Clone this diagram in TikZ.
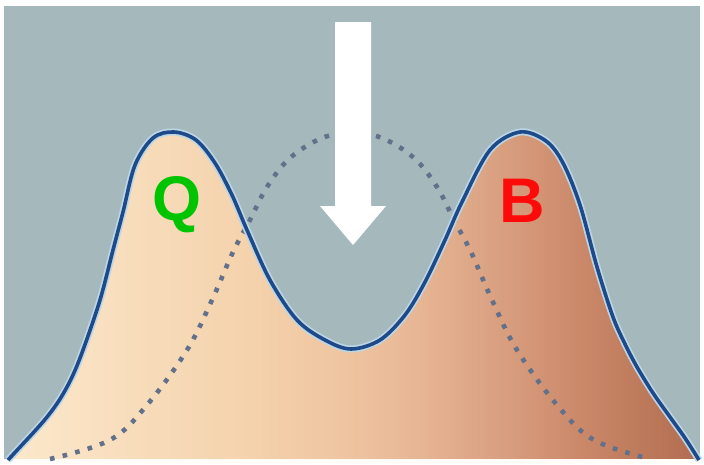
\documentclass[tikz,border=0pt]{standalone}
\usepackage{fontspec}
\setmainfont{Liberation Sans}
\definecolor{bg}{HTML}{A5B9BD}
\definecolor{haloblue}{HTML}{BCD6E6}
\definecolor{curveblue}{HTML}{1E4A8A}
\definecolor{dotgray}{HTML}{62708A}
\definecolor{qgreen}{HTML}{00C400}
\definecolor{bred}{HTML}{FF0A0A}
\pgfdeclarehorizontalshading{humpfill}{100bp}{%
  rgb(0bp)=(0.988,0.910,0.800);
  rgb(25bp)=(0.988,0.910,0.800);
  rgb(31.6bp)=(0.976,0.878,0.753);
  rgb(42.5bp)=(0.957,0.824,0.675);
  rgb(49.7bp)=(0.933,0.769,0.624);
  rgb(54bp)=(0.910,0.722,0.588);
  rgb(60bp)=(0.855,0.635,0.510);
  rgb(66bp)=(0.800,0.540,0.420);
  rgb(72bp)=(0.730,0.465,0.345);
  rgb(75bp)=(0.700,0.420,0.310);
  rgb(100bp)=(0.700,0.420,0.310)}
\begin{document}
\begin{tikzpicture}[x=1pt,y=-1pt,
  halo/.style={line width=7pt, draw=haloblue, line join=round},
  curveline/.style={line width=3.6pt, draw=curveblue, line join=round},
  dotline/.style={line width=4.6pt, draw=dotgray, dash pattern=on 4.6pt off 8.4pt},
  letter/.style={font=\bfseries\fontsize{63}{63}\selectfont, anchor=base, inner sep=0pt}]
\useasboundingbox (0,0) rectangle (704,464);
\fill[white] (0,0) rectangle (704,464);
\fill[bg] (4,6) rectangle (700,459);
% filled bimodal area
\def\bimodal{(8,460) (20,447) (33,433) (47,417) (60,399) (72,377) (83,350) (100,300) (113,250) (123,212) (135,165) (153,138) (174,132) (196,140) (215,163) (232,195) (247,230) (270,280) (297,320) (325,340) (351,349) (380,340) (405,315) (425,282) (445,240) (462,202) (490,150) (520,132) (546,141) (563,163) (580,205) (597,267) (613,317) (625,344) (637,367) (653,393) (670,417) (685,438) (699,460)}
\shade[shading=humpfill]
  plot[smooth, tension=0.55] coordinates {\bimodal} -- cycle;
\fill[white!90!orange!20] (4,459) rectangle (700,464);
% dotted single-peak curve
\draw[dotline] plot[smooth, tension=0.6] coordinates {(50,459) (110,440) (147,405) (187,350) (212,300) (233,252) (250,220) (267,187) (290,158) (322,138) (352,133) (382,138) (414,158) (437,187) (454,220) (471,252) (492,300) (517,350) (557,405) (594,440) (650,459)};
% solid outline
\draw[halo] plot[smooth, tension=0.55] coordinates {\bimodal};
\draw[curveline] plot[smooth, tension=0.55] coordinates {\bimodal};
% arrow
\fill[white] (335,22) -- (371,22) -- (371,206) -- (386,206) -- (353,245) -- (320,206) -- (335,206) -- cycle;
\node[letter, text=qgreen] (q) at (177,220) {Q};
\node[letter, text=bred] (b) at (522,222) {B};
\end{tikzpicture}
\end{document}
